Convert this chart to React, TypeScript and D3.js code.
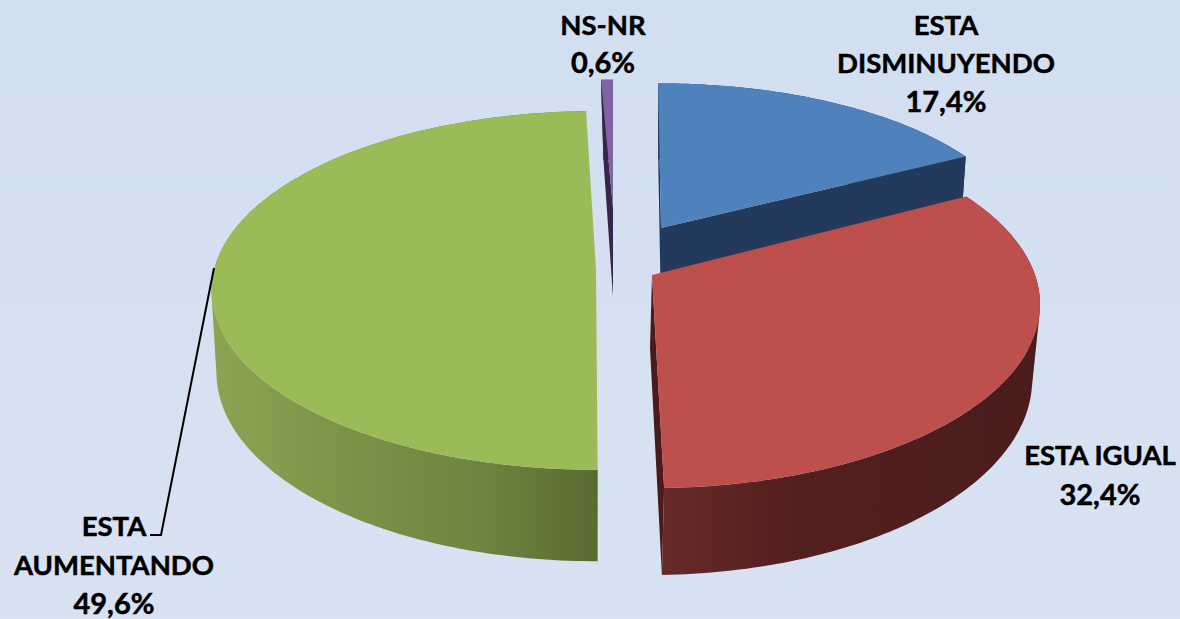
import React from "react";
import * as d3 from "d3";

const categories = ["ESTA DISMINUYENDO", "ESTA IGUAL", "ESTA AUMENTANDO", "NS-NR"];
const shareValues = [17.4, 32.4, 49.6, 0.6];
const valueLabels = ["17,4%", "32,4%", "49,6%", "0,6%"];
const topColors = ["#4f81bd", "#bd4f4c", "#9bbb59", "#8064a2"];
const wallColors = ["#243a5c", "#4f1f1f", "#647a38", "#35264a"];

const W = 1180;
const H = 619;

type Geo = { cx: number; cy: number; rx: number; ry: number; p: number; depth: number; rot: number; shrink: number; dxb: number; startWall: boolean; endWall: boolean };
const geos: Geo[] = [
  { cx: 661, cy: 228, rx: 363, ry: 161, p: 0.114, depth: 84, rot: 0, shrink: 0.982, dxb: 0, startWall: true, endWall: true },
  { cx: 652, cy: 275, rx: 383, ry: 179, p: 0.16, depth: 73, rot: -0.3, shrink: 0.985, dxb: -2, startWall: false, endWall: true },
  { cx: 596, cy: 270, rx: 382, ry: 177, p: 0.114, depth: 81, rot: 1, shrink: 0.987, dxb: 0, startWall: false, endWall: false },
  { cx: 613, cy: 208, rx: 354, ry: 143, p: 0.114, depth: 89, rot: 0.5, shrink: 0.8, dxb: 0, startWall: true, endWall: false },
];
const drawOrder = [3, 0, 2, 1];

const arcs = d3
  .pie<number>()
  .sort(null)
  .startAngle((-0.5 * Math.PI) / 180)
  .endAngle((359.5 * Math.PI) / 180)(shareValues);

function proj(g: Geo, deg: number, r: number, bottom: boolean): [number, number] {
  const a = (deg * Math.PI) / 180;
  const x = r * Math.sin(a);
  const y = -r * Math.cos(a);
  const w = 1 / (1 - y * g.p);
  const shrink = bottom ? g.shrink : 1;
  return [g.cx + g.rx * x * w * shrink + (bottom ? g.dxb : 0), g.cy + g.ry * y * w + (bottom ? g.depth * w : 0)];
}

const line = d3.line<[number, number]>().curve(d3.curveLinear);

function sampled(a0: number, a1: number): number[] {
  const n = Math.max(2, Math.ceil(Math.abs(a1 - a0)));
  return d3.range(n + 1).map((i) => a0 + ((a1 - a0) * i) / n);
}

// Swept side surface as one path: every quad wound the same way, so they union without seams.
function sweepPath(topArc: [number, number][], botArc: [number, number][]): string {
  return topArc
    .slice(1)
    .map((_, k) => {
      const quad: [number, number][] = [topArc[k], topArc[k + 1], botArc[k + 1], botArc[k]];
      const ordered = d3.polygonArea(quad) < 0 ? quad.slice().reverse() : quad;
      return line(ordered) + "Z";
    })
    .join("");
}

const labelStyle: React.CSSProperties = { fontFamily: "Lato, Carlito, sans-serif", fontWeight: 700, fontSize: 27.5, fill: "#000", stroke: "#000", strokeWidth: 0.5 };

const labelLines: { lines: string[]; x: number; y: number[] }[] = [
  { lines: ["ESTA", "DISMINUYENDO", valueLabels[0]], x: 946, y: [35, 73, 112] },
  { lines: ["ESTA IGUAL", valueLabels[1]], x: 1100, y: [465, 505] },
  { lines: ["ESTA", "AUMENTANDO", valueLabels[2]], x: 114, y: [536, 575, 614] },
  { lines: [categories[3], valueLabels[3]], x: 603, y: [35, 73] },
];

export default function App() {
  return (
    <svg width={W} height={H} style={{ position: "absolute", left: 0, top: 0 }}>
      <defs>
        <linearGradient id="bg" x1="0" y1="0" x2="0" y2="1">
          <stop offset="0" stopColor="#d2dff1" />
          <stop offset="1" stopColor="#d8e2f2" />
        </linearGradient>
        <linearGradient id="wall2" gradientUnits="userSpaceOnUse" x1="211" y1="0" x2="598" y2="0">
          <stop offset="0" stopColor="#8aa652" />
          <stop offset="0.3" stopColor="#7c964a" />
          <stop offset="0.7" stopColor="#6c8540" />
          <stop offset="1" stopColor="#586a31" />
        </linearGradient>
        <linearGradient id="wall1" gradientUnits="userSpaceOnUse" x1="660" y1="0" x2="1040" y2="0">
          <stop offset="0" stopColor="#672b29" />
          <stop offset="0.35" stopColor="#541f1f" />
          <stop offset="1" stopColor="#4b1c1c" />
        </linearGradient>
      </defs>
      <rect width={W} height={H} fill="url(#bg)" />
      {drawOrder.map((i) => {
        const g = geos[i];
        const a0 = (arcs[i].startAngle * 180) / Math.PI + g.rot;
        const a1 = (arcs[i].endAngle * 180) / Math.PI + g.rot;
        const angles = sampled(a0, a1);
        const topArc = angles.map((d) => proj(g, d, 1, false));
        const botArc = angles.map((d) => proj(g, d, 1, true));
        const wallFill = i === 2 ? "url(#wall2)" : i === 1 ? "url(#wall1)" : wallColors[i];
        const cTop = proj(g, 0, 0, false);
        const cBot = proj(g, 0, 0, true);
        const edgeWall = (deg: number): [number, number][] => [cTop, proj(g, deg, 1, false), proj(g, deg, 1, true), cBot];
        return (
          <g key={categories[i]}>
            {g.startWall && <path d={line(edgeWall(a0)) + "Z"} fill={i === 0 ? "#1f3657" : wallColors[i]} />}
            {g.endWall && <path d={line(edgeWall(a1)) + "Z"} fill={i === 1 ? "#4a1a1c" : wallColors[i]} />}
            <path d={sweepPath(topArc, botArc)} fill={wallFill} fillRule="nonzero" />
            <path d={line([cTop, ...topArc]) + "Z"} fill={topColors[i]} />
          </g>
        );
      })}
      <path d="M214,268L161,535L150,535" fill="none" stroke="#000" strokeWidth={2} />
      {labelLines.map((l, i) => (
        <g key={i}>
          {l.lines.map((t, j) => (
            <text key={j} x={l.x} y={l.y[j]} textAnchor="middle" style={{ ...labelStyle, fontSize: t.endsWith("%") ? 29 : 27.5 }}>
              {t}
            </text>
          ))}
        </g>
      ))}
    </svg>
  );
}
